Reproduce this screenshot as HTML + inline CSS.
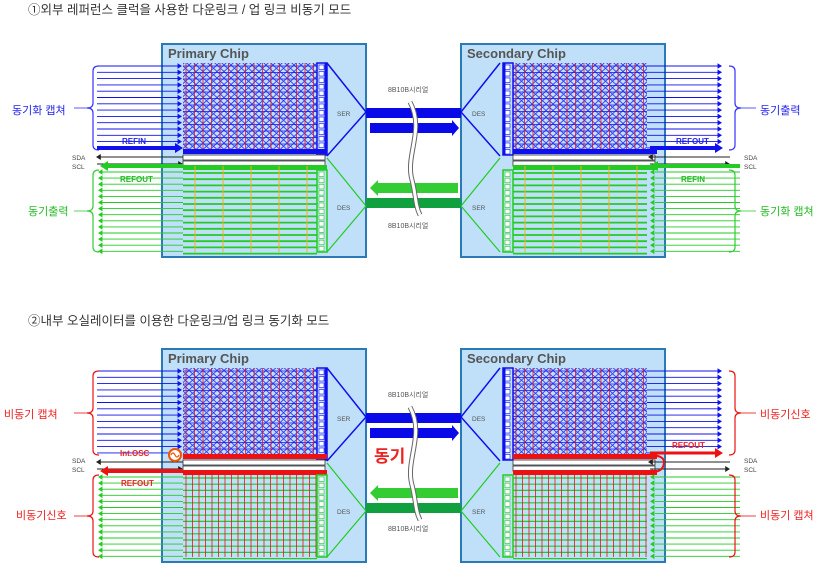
<!DOCTYPE html>
<html><head><meta charset="utf-8"><style>
html,body{margin:0;padding:0;background:#fff;width:838px;height:574px;overflow:hidden}
svg{display:block}
text{font-family:"Liberation Sans","Noto Sans CJK KR",sans-serif}
</style></head><body>
<svg id="s" width="838" height="574" viewBox="0 0 838 574" xmlns="http://www.w3.org/2000/svg">
<defs>
<pattern id="xb" width="7" height="6.5" patternUnits="userSpaceOnUse"><path d="M0,0L7,6.5M7,0L0,6.5" stroke="#3a3af0" stroke-width="0.9" fill="none"/></pattern>
</defs>
<g id="g"></g>
<text x="28" y="14" font-size="12.5" fill="#333">①외부 레퍼런스 클럭을 사용한 다운링크 / 업 링크 비동기 모드</text>
<text x="28" y="325" font-size="12.5" fill="#333">②내부 오실레이터를 이용한 다운링크/업 링크 동기화 모드</text>
<text x="168" y="58" font-size="13" font-weight="bold" fill="#555">Primary Chip</text>
<text x="467" y="58" font-size="13" font-weight="bold" fill="#555">Secondary Chip</text>
<text x="12" y="114" font-size="11" fill="#2222ee">동기화 캡쳐</text>
<text x="28" y="215" font-size="11" fill="#22bb22">동기출력</text>
<text x="760" y="114" font-size="11" fill="#2222ee">동기출력</text>
<text x="760" y="215" font-size="11" fill="#22bb22">동기화 캡쳐</text>
<text x="122" y="144" font-size="8" font-weight="bold" fill="#2222ee">REFIN</text>
<text x="120" y="182" font-size="8" font-weight="bold" fill="#22bb22">REFOUT</text>
<text x="676" y="144" font-size="8" font-weight="bold" fill="#2222ee">REFOUT</text>
<text x="681" y="182" font-size="8" font-weight="bold" fill="#22bb22">REFIN</text>
<text x="72" y="160" font-size="6.5" fill="#444">SDA</text><text x="72" y="169" font-size="6.5" fill="#444">SCL</text>
<text x="744" y="160" font-size="6.5" fill="#444">SDA</text><text x="744" y="169" font-size="6.5" fill="#444">SCL</text>
<text x="337" y="116" font-size="6.5" fill="#555">SER</text><text x="337" y="210" font-size="6.5" fill="#555">DES</text>
<text x="472" y="116" font-size="6.5" fill="#555">DES</text><text x="472" y="210" font-size="6.5" fill="#555">SER</text>
<text x="388" y="92" font-size="7" fill="#555">8B10B시리얼</text>
<text x="388" y="228" font-size="7" fill="#555">8B10B시리얼</text>
<text x="168" y="363" font-size="13" font-weight="bold" fill="#555">Primary Chip</text>
<text x="467" y="363" font-size="13" font-weight="bold" fill="#555">Secondary Chip</text>
<text x="4" y="418" font-size="11" fill="#ee2222">비동기 캡쳐</text>
<text x="16" y="519" font-size="11" fill="#ee2222">비동기신호</text>
<text x="760" y="418" font-size="11" fill="#ee2222">비동기신호</text>
<text x="760" y="519" font-size="11" fill="#ee2222">비동기 캡쳐</text>
<text x="120" y="456" font-size="8" font-weight="bold" fill="#ee2222">Int.OSC</text>
<text x="121" y="486" font-size="8" font-weight="bold" fill="#ee2222">REFOUT</text>
<text x="672" y="448" font-size="8" font-weight="bold" fill="#ee2222">REFOUT</text>
<text x="72" y="463" font-size="6.5" fill="#444">SDA</text><text x="72" y="472" font-size="6.5" fill="#444">SCL</text>
<text x="744" y="463" font-size="6.5" fill="#444">SDA</text><text x="744" y="472" font-size="6.5" fill="#444">SCL</text>
<text x="337" y="421" font-size="6.5" fill="#555">SER</text><text x="337" y="514" font-size="6.5" fill="#555">DES</text>
<text x="472" y="421" font-size="6.5" fill="#555">DES</text><text x="472" y="514" font-size="6.5" fill="#555">SER</text>
<text x="388" y="397" font-size="7" fill="#555">8B10B시리얼</text>
<text x="388" y="531" font-size="7" fill="#555">8B10B시리얼</text>
<text x="374" y="462" font-size="17" font-weight="bold" fill="#ee2222">동기</text>
</svg>
<script>
var G=document.getElementById('g'),NS='http://www.w3.org/2000/svg';
function el(t,a){var e=document.createElementNS(NS,t);for(var k in a)e.setAttribute(k,a[k]);G.appendChild(e);return e;}
function L(x1,y1,x2,y2,c,w){el('line',{x1:x1,y1:y1,x2:x2,y2:y2,stroke:c,'stroke-width':w||1});}
function R(x,y,w,h,f,s,sw){el('rect',{x:x,y:y,width:w,height:h,fill:f,stroke:s||'none','stroke-width':sw||1});}
function P(d,f,s,sw){el('path',{d:d,fill:f,stroke:s||'none','stroke-width':sw||1});}
function tri(x,y,dir,c,s){s=s||3.5;P(dir>0?('M'+(x-s*1.6)+','+(y-s)+'L'+x+','+y+'L'+(x-s*1.6)+','+(y+s)+'Z'):('M'+(x+s*1.6)+','+(y-s)+'L'+x+','+y+'L'+(x+s*1.6)+','+(y+s)+'Z'),c);}
function brace(x,y1,y2,dir,c){var m=(y1+y2)/2,d=dir*6;P('M'+(x+d)+','+y1+'Q'+x+','+y1+' '+x+','+(y1+5)+'L'+x+','+(m-5)+'Q'+x+','+m+' '+(x-d)+','+m+'Q'+x+','+m+' '+x+','+(m+5)+'L'+x+','+(y2-5)+'Q'+x+','+y2+' '+(x+d)+','+y2,'none',c,1.2);}
function diag(o,sync){
 var B='#1010ee',Gr='#22cc22',DG='#10a040',Rd='#ee1111';
 R(162,44+o,204,213,'#bfe0f8','#2a7ab8',2);R(461,44+o,204,213,'#bfe0f8','#2a7ab8',2);
 P('M327,'+(63+o)+'L366,'+(112+o)+'L327,'+(156+o),'none',B,1.5);
 P('M327,'+(158+o)+'L366,'+(206+o)+'L327,'+(252+o),'none',Gr,1.2);
 P('M500,'+(63+o)+'L461,'+(112+o)+'L500,'+(156+o),'none',B,1.5);
 P('M500,'+(158+o)+'L461,'+(206+o)+'L500,'+(252+o),'none',Gr,1.2);
 R(366,108+o,95,10,'#0a0ae8');P('M370,'+(123+o)+'L452,'+(123+o)+'L452,'+(120+o)+'L459,'+(128+o)+'L452,'+(136+o)+'L452,'+(133+o)+'L370,'+(133+o)+'Z','#0a0ae8');
 P('M458,'+(183+o)+'L378,'+(183+o)+'L378,'+(180+o)+'L370,'+(188+o)+'L378,'+(196+o)+'L378,'+(193+o)+'L458,'+(193+o)+'Z','#33cc33');
 R(366,198+o,95,10,DG);
 var wd='M410,'+(102+o)+'C425,'+(130+o)+' 405,'+(155+o)+' 412,'+(180+o)+'C416,'+(195+o)+' 415,'+(205+o)+' 420,'+(215+o);
 P(wd,'none','#666',5);P(wd,'none','#fff',3);
 [[183,317],[513,503]].forEach(function(c,i){
  var gx=c[0],bx=c[1],gw=134;
  R(gx,63+o,gw,89,'url(#xb)');
  for(var k=0;k<14;k++)L(gx,66+o+k*6.5,gx+gw,66+o+k*6.5,B,0.8);
  for(var x=gx+3;x<gx+gw;x+=8.5)L(x,63+o,x,152+o,Rd,0.8);
  R(bx,63+o,10,92,'none',B,1.5);for(var k=0;k<14;k++)R(bx+2,65+o+k*6.5,5,4.5,'#fff',B,0.6);
  L(i==0?bx+9:bx+1,63+o,i==0?bx+9:bx+1,155+o,B,3);
  R(gx,149+o,gw+10,5,sync?Rd:B);
  R(gx,155+o,gw+8,5,'#fff','#333',0.8);R(gx,161+o,gw+8,5,'#fff','#333',0.8);
  R(gx,165+o,gw+10,5,sync?Rd:Gr);
  for(var k=0;k<14;k++)L(gx,173+o+k*6.2,gx+gw,173+o+k*6.2,Gr,sync?1.2:1.8);
  if(sync){for(var x=gx+3;x<gx+gw;x+=6.5)L(x,168+o,x,252+o,Rd,0.8);}
  else{for(var x=gx+12;x<gx+gw;x+=28)L(x,166+o,x,252+o,'#f0b020',1);}
  R(bx,170+o,10,82,'none',Gr,1.5);for(var k=0;k<13;k++)R(bx+2,172+o+k*6.2,5,4.5,'#fff',Gr,0.6);
 });
 for(var k=0;k<14;k++){var y=66+o+k*6.3;L(97,y,180,y,B,0.9);tri(182,y,1,B,2.8);L(647,y,718,y,B,0.9);tri(722,y,1,B,2.8);}
 for(var k=0;k<14;k++){var y=172+o+k*6.1;L(102,y,183,y,Gr,0.9);tri(98,y,-1,Gr,2.8);L(655,y,740,y,Gr,0.9);tri(650,y,-1,Gr,2.8);}
 var c1=sync?Rd:'#3333ff',c2=sync?Rd:'#33cc33';
 brace(93,66+o,150+o,1,c1);brace(93,170+o,252+o,1,c2);
 brace(735,66+o,150+o,-1,c1);brace(735,170+o,252+o,-1,c2);
 L(74,108+o,87,108+o,c1,0.8);L(74,211+o,87,211+o,c2,0.8);
 L(741,108+o,756,108+o,c1,0.8);L(741,211+o,756,211+o,c2,0.8);
 L(100,157+o,183,157+o,'#222',1);tri(96,157+o,-1,'#222',3);L(97,164+o,180,164+o,'#222',1);tri(183,164+o,1,'#222',3);
 L(650,157+o,730,157+o,'#222',1);tri(648,157+o,-1,'#222',3);L(650,164+o,726,164+o,'#222',1);tri(730,164+o,1,'#222',3);
 if(!sync){
  L(97,148+o,175,148+o,B,4);tri(183,148+o,1,B,5);
  L(108,166+o,183,166+o,Gr,4);tri(100,166+o,-1,Gr,5);
  L(650,148+o,715,148+o,B,4);tri(723,148+o,1,B,5);
  L(658,166+o,740,166+o,Gr,4);tri(650,166+o,-1,Gr,5);
 } else {
  L(108,166+o,183,166+o,Rd,4);tri(100,166+o,-1,Rd,5);
  L(650,148+o,715,148+o,Rd,3);tri(723,148+o,1,Rd,5);
  P('M648,'+(150+o)+'Q665,'+(150+o)+' 664,'+(158+o)+'Q663,'+(167+o)+' 652,'+(167+o),'none',Rd,2);tri(648,167+o,-1,Rd,3);
  el('circle',{cx:175,cy:150+o,r:6,fill:'#fff',stroke:'#ee5500','stroke-width':2});
  P('M171,'+(150+o)+'q2,-4 4,0t4,0','none','#ee5500',1.2);
 }
}
diag(0,false);diag(305,true);
</script>
</body></html>
